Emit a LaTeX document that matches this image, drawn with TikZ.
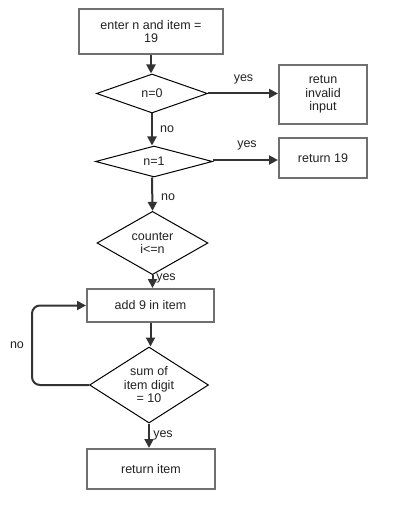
\documentclass[tikz,border=0pt]{standalone}
\usepackage{fontspec}
\setmainfont{Liberation Sans}
\usetikzlibrary{shapes.geometric,arrows.meta}

\tikzset{
  procbox/.style={draw=boxgray,line width=2pt,fill=white,inner sep=0pt,align=center,text=txtgray},
  decbox/.style={draw=black,line width=1pt,fill=white,diamond,inner sep=0pt,align=center,text=txtgray},
  flowarrow/.style={draw=linegray,line width=2pt,-{Triangle[length=9pt,width=9pt]}},
  flowlabel/.style={inner sep=0.75pt,text=txtgray}
}
\definecolor{boxgray}{HTML}{707070}
\definecolor{linegray}{HTML}{333333}
\definecolor{txtgray}{HTML}{222222}

\begin{document}
\begin{tikzpicture}[x=1pt,y=1pt,yscale=-1,xscale=1,font=\fontsize{12.5}{13.5}\selectfont]
		\useasboundingbox (0,0) rectangle (407,529);
		
		%Shape: Rectangle [id:start] 
		\node[procbox,minimum width=144,minimum height=45] (start) at (151,31.5) {enter n and item =\\19};
		%Shape: Diamond [id:nzero] 
		\node[decbox,minimum width=111,minimum height=39] (nzero) at (152,93.5) {n=0};
		%Shape: Rectangle [id:invalid] 
		\node[procbox,minimum width=88,minimum height=59] (invalid) at (323,94.5) {retun\\invalid\\input};
		%Shape: Diamond [id:none] 
		\node[decbox,minimum width=117,minimum height=31] (none) at (154,161.5) {n=1};
		%Shape: Rectangle [id:ret19] 
		\node[procbox,minimum width=88,minimum height=40] (ret19) at (323,158.5) {return 19};
		%Shape: Diamond [id:counter] 
		\node[decbox,minimum width=111,minimum height=50] (counter) at (152.5,243) {counter\\i<=n};
		%Shape: Rectangle [id:addnine] 
		\node[procbox,minimum width=127,minimum height=33] (addnine) at (150.5,305.5) {add 9 in item};
		%Shape: Diamond [id:digsum] 
		\node[decbox,minimum width=119,minimum height=76,aspect=1.55] (digsum) at (149,385) {sum of\\item digit\\= 10};
		%Shape: Rectangle [id:retitem] 
		\node[procbox,minimum width=128,minimum height=40] (retitem) at (151,469) {return item};
		%Point [id:loopcorner] 
		\coordinate (loopcorner) at (32,385);
		
		%Straight Lines [id:a1] 
		\draw[flowarrow] (start.south) -- (start.south |- nzero.north);
		%Straight Lines [id:a2] 
		\draw[flowarrow] (nzero.east) -- (nzero.east -| invalid.west);
		%Straight Lines [id:a3] 
		\draw[flowarrow] (nzero.south) -- (nzero.south |- none.north);
		%Straight Lines [id:a4] 
		\draw[flowarrow] (none.east |- 0,160) -- (ret19.west |- 0,160);
		%Straight Lines [id:a5] 
		\draw[flowarrow] (none.south -| nzero.south) -- (counter.north);
		%Straight Lines [id:a6] 
		\draw[flowarrow] (counter.south) -- (counter.south |- addnine.north);
		%Straight Lines [id:a7] 
		\draw[flowarrow] (addnine.south) -- (addnine.south |- digsum.north);
		%Straight Lines [id:a8] 
		\draw[flowarrow,rounded corners=8] (digsum.west) -- (loopcorner) |- (addnine.west);
		%Straight Lines [id:a9] 
		\draw[flowarrow] (digsum.south) -- (digsum.south |- retitem.north);
		
		% Text Node
		\node[flowlabel] (yesone) at (243.5,79) {yes};
		% Text Node
		\node[flowlabel] (noone) at (167,129) {no};
		% Text Node
		\node[flowlabel] (yestwo) at (247,145) {yes};
		% Text Node
		\node[flowlabel] (notwo) at (168,197) {no};
		% Text Node
		\node[flowlabel] (yesthree) at (166,278) {yes};
		% Text Node
		\node[flowlabel] (nothree) at (17,345) {no};
		% Text Node
		\node[flowlabel] (yesfour) at (163,435) {yes};
		
\end{tikzpicture}
\end{document}
